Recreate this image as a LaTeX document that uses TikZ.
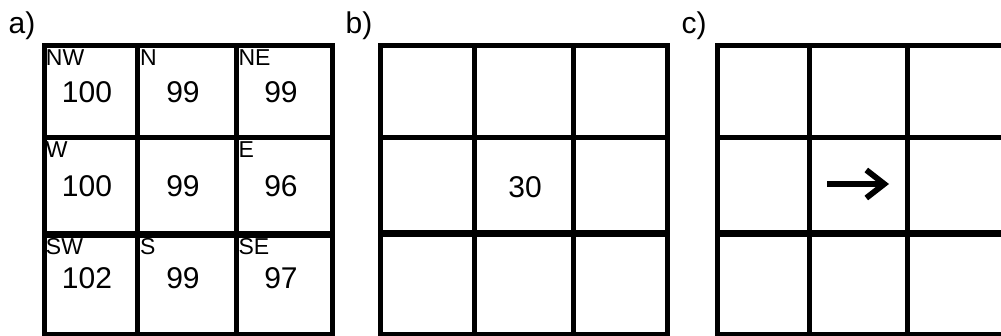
\documentclass[tikz,border=0pt]{standalone}
\usepackage{fontspec}
\setmainfont{Liberation Sans}
\usetikzlibrary{arrows.meta}

\begin{document}
\begin{tikzpicture}[
  x=0.5pt,
  y=-0.5pt,
  gridline/.style={
    draw=black,
    line width=2.5pt
  },
  heavyline/.style={
    draw=black,
    line width=3.5pt
  },
  panel/.style={
    inner sep=0pt,
    font=\fontsize{15}{18}\selectfont
  },
  value/.style={
    inner sep=0pt,
    font=\fontsize{15}{18}\selectfont
  },
  corner/.style={
    anchor=north west,
    inner sep=0.3pt,
    font=\fontsize{11.5}{13}\selectfont
  },
  flowarrow/.style={
    -{Straight Barb[length=9pt,width=14pt]},
    draw=black,
    line width=2.9pt
  }
]
\useasboundingbox (0,0) rectangle (1001,336);

% Panel a: the neighbourhood values
\node[panel] (labela) at (22,26) {a)};
\draw[gridline] (44,45.5) rectangle (332.5,334);
\draw[gridline] (137.5,45.5) -- (137.5,334);
\draw[gridline] (236,45.5) -- (236,334);
\draw[gridline] (44,137.5) -- (332.5,137.5);
\draw[heavyline] (44,234.5) -- (332.5,234.5);

\node[corner] (nw) at (45,48.5) {NW};
\node[corner] (n)  at (139,48.5) {N};
\node[corner] (ne) at (237.5,48.5) {NE};
\node[corner] (w)  at (45,140.5) {W};
\node[corner] (e)  at (237.5,140.5) {E};
\node[corner] (sw) at (45,237.5) {SW};
\node[corner] (s)  at (139,237.5) {S};
\node[corner] (se) at (237.5,237.5) {SE};

\node[value] (vnw) at (87,92)  {100};
\node[value] (vn)  at (183,92) {99};
\node[value] (vne) at (281,92) {99};
\node[value] (vw)  at (87,186) {100};
\node[value] (vc)  at (183,186) {99};
\node[value] (ve)  at (281,186) {96};
\node[value] (vsw) at (87,278) {102};
\node[value] (vs)  at (183,278) {99};
\node[value] (vse) at (281,278) {97};

% Panel b: the slope
\node[panel] (labelb) at (359,26) {b)};
\draw[gridline] (380.5,45.5) rectangle (667.5,334);
\draw[gridline] (474.7,45.5) -- (474.7,334);
\draw[gridline] (573,45.5) -- (573,334);
\draw[gridline] (380.5,137.5) -- (667.5,137.5);
\draw[heavyline] (380.5,233.5) -- (667.5,233.5);
\node[value] (slope) at (525,187) {30};

% Panel c: the flow direction
\node[panel] (labelc) at (694,26) {c)};
\draw[gridline] (1010,45.5) -- (717,45.5) -- (717,334) -- (1010,334);
\draw[gridline] (809.7,45.5) -- (809.7,334);
\draw[gridline] (907.5,45.5) -- (907.5,334);
\draw[gridline] (717,137.5) -- (1010,137.5);
\draw[heavyline] (717,233.5) -- (1010,233.5);
\coordinate (tail) at (827,184);
\coordinate (head) at (889,184);
\draw[flowarrow] (tail) -- (head);

\end{tikzpicture}
\end{document}
